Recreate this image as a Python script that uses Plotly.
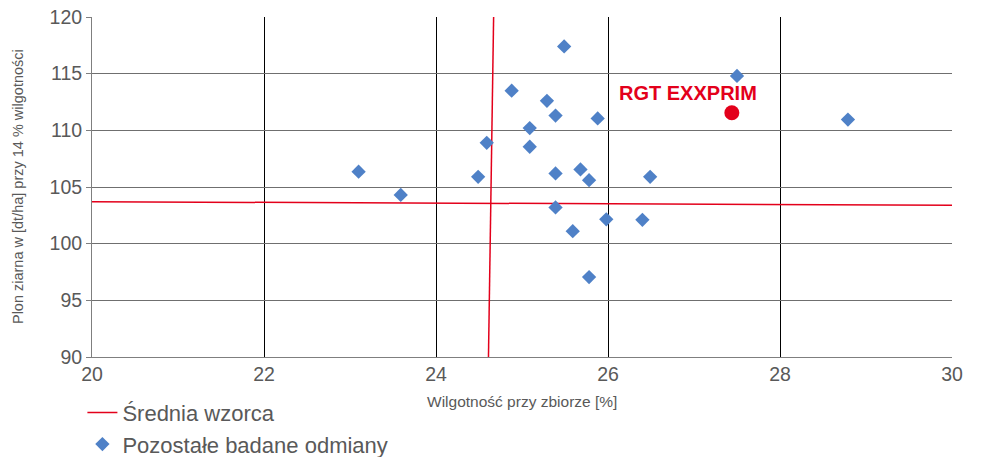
import plotly.graph_objects as go

# Pozostałe badane odmiany
moisture = [25.49, 24.88, 25.29, 25.39, 25.88, 25.09, 24.59, 25.09, 23.10, 25.39, 25.68,
            25.78, 24.49, 26.49, 23.59, 25.39, 25.98, 26.40, 25.59, 25.78, 27.50, 28.79]
yield_ = [117.4, 113.5, 112.6, 111.3, 111.05, 110.2, 108.9, 108.55, 106.35, 106.2, 106.55,
          105.6, 105.9, 105.9, 104.3, 103.2, 102.15, 102.1, 101.1, 97.05, 114.8, 110.95]

# RGT EXXPRIM
rgt_name = "RGT EXXPRIM"
rgt_x = [27.44]
rgt_y = [111.55]

# Średnia wzorca (lines)
mean_h_x = [20, 30]
mean_h_y = [103.7, 103.4]
mean_v_x = [24.67, 24.61]
mean_v_y = [120, 90]

x_ticks = [20, 22, 24, 26, 28, 30]
y_ticks = [90, 95, 100, 105, 110, 115, 120]

x_title = "Wilgotność przy zbiorze [%]"
y_title = "Plon ziarna w [dt/ha] przy 14 % wilgotności"

RED = "#e3001b"
BLUE = "#4f81c7"
GREY = "#595959"

fig = go.Figure()
fig.add_trace(go.Scatter(x=mean_h_x, y=mean_h_y, mode="lines", name="Średnia wzorca",
                         line=dict(color=RED, width=1.5), legendgroup="m"))
fig.add_trace(go.Scatter(x=mean_v_x, y=mean_v_y, mode="lines", name="Średnia wzorca",
                         line=dict(color=RED, width=1.5), legendgroup="m", showlegend=False))
fig.add_trace(go.Scatter(x=moisture, y=yield_, mode="markers", name="Pozostałe badane odmiany",
                         marker=dict(symbol="diamond", size=11, color=BLUE)))
fig.add_trace(go.Scatter(x=rgt_x, y=rgt_y, mode="markers", name=rgt_name, showlegend=False,
                         marker=dict(symbol="circle", size=15, color=RED)))

fig.add_annotation(x=rgt_x[0], y=rgt_y[0], text="<b>" + rgt_name + "</b>", showarrow=False,
                   xref="x", yref="y", xanchor="center", yanchor="middle",
                   xshift=-44, yshift=20,
                   font=dict(family="Liberation Sans, Arial, sans-serif", size=20, color=RED))

# axis titles as annotations
fig.add_annotation(x=-0.086, y=0.5, xref="paper", yref="paper", text=y_title, textangle=-90,
                   showarrow=False, xanchor="center", yanchor="middle",
                   font=dict(size=14.5, color=GREY))
fig.add_annotation(x=0.5, y=-0.132, xref="paper", yref="paper", text=x_title,
                   showarrow=False, xanchor="center", yanchor="middle",
                   font=dict(size=15.5, color=GREY))

fig.update_layout(
    width=981, height=457,
    margin=dict(l=92, r=29, t=17, b=100, autoexpand=False),
    plot_bgcolor="white", paper_bgcolor="white",
    font=dict(family="Liberation Sans, Arial, sans-serif", color=GREY),
    showlegend=True,
    legend=dict(x=0.084, y=0.143, xref="container", yref="container",
                xanchor="left", yanchor="top", orientation="v",
                font=dict(size=22, color=GREY), bgcolor="rgba(0,0,0,0)",
                itemwidth=30, tracegroupgap=0),
)
fig.update_xaxes(range=[20, 30], tickvals=x_ticks, showgrid=True, gridcolor="#000000", gridwidth=1,
                 zeroline=False, showline=True, linecolor="#7f7f7f", linewidth=1, mirror=False,
                 tickfont=dict(size=19.5, color=GREY), ticks="")
fig.update_yaxes(range=[90, 120], tickvals=y_ticks, showgrid=True, gridcolor="#6f6f6f", gridwidth=1.3,
                 zeroline=False, showline=True, linecolor="#7f7f7f", linewidth=1,
                 tickfont=dict(size=19.5, color=GREY), ticks="outside", ticklen=5, tickcolor="#7f7f7f")

fig.write_html("out.html", config={"displayModeBar": False},
               post_script="document.body.style.margin='0';document.body.style.overflow='hidden';")
